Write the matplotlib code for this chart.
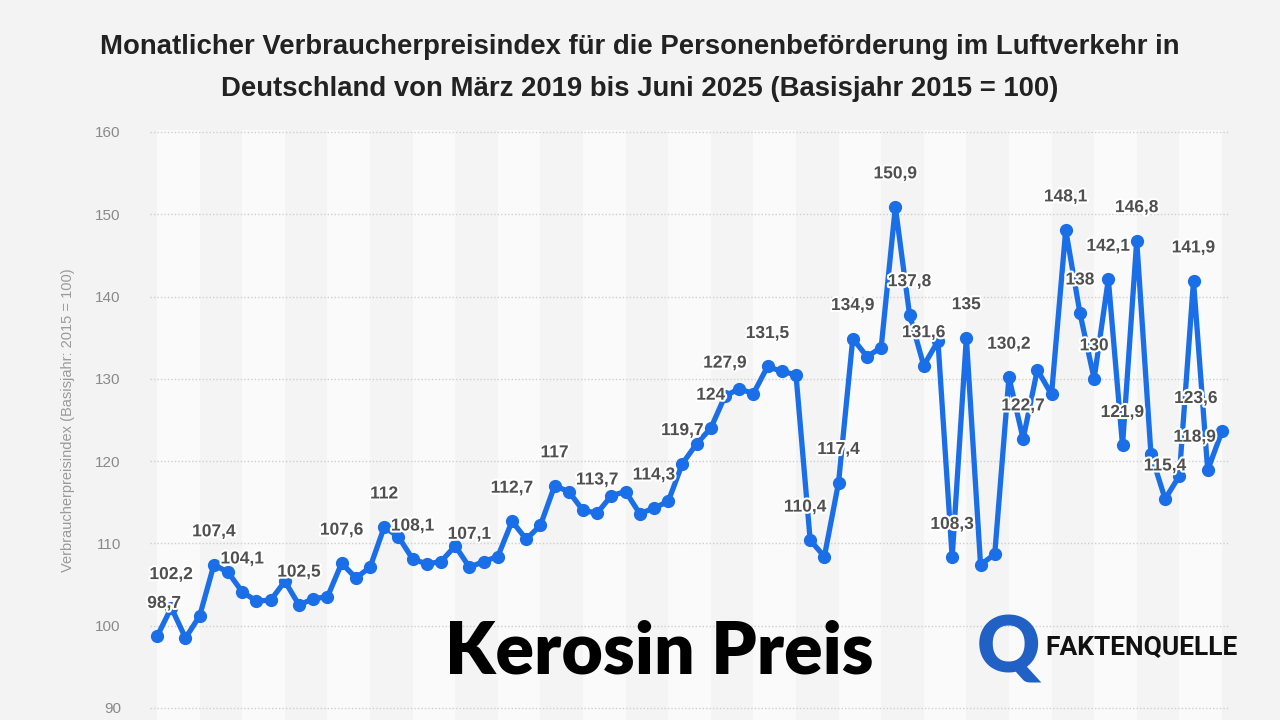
import matplotlib
matplotlib.use('Agg')
import matplotlib.pyplot as plt
import matplotlib.patheffects as pe
import pandas as pd

# Monatswerte Maerz 2019 bis Juni 2025 (Basisjahr 2015 = 100)
months = pd.date_range('2019-03-01', periods=76, freq='MS').strftime('%m/%Y').tolist()
values = [98.7, 102.2, 98.5, 101.2, 107.4, 106.5, 104.1, 103.0, 103.1, 105.4,
          102.5, 103.3, 103.5, 107.6, 105.8, 107.1, 112.0, 110.8, 108.1, 107.5,
          107.8, 109.7, 107.1, 107.8, 108.4, 112.7, 110.5, 112.2, 117.0, 116.3,
          114.0, 113.7, 115.8, 116.3, 113.6, 114.3, 115.1, 119.7, 122.1, 124.0,
          127.9, 128.8, 128.2, 131.5, 130.9, 130.5, 110.4, 108.4, 117.4, 134.9,
          132.7, 133.8, 150.9, 137.8, 131.6, 134.6, 108.3, 135.0, 107.4, 108.7,
          130.2, 122.7, 131.1, 128.1, 148.1, 138.0, 130.0, 142.1, 121.9, 146.8,
          120.9, 115.4, 118.2, 141.9, 118.9, 123.6]

# which points get a value label
labeled = [0, 1, 4, 6, 10, 13, 16, 18, 22, 25, 28, 31, 35, 37, 39, 40, 43, 46,
           48, 49, 52, 53, 54, 56, 57, 60, 61, 64, 65, 66, 67, 68, 69, 71, 73, 74, 75]

yticks = [90, 100, 110, 120, 130, 140, 150, 160]

title = ("Monatlicher Verbraucherpreisindex für die Personenbeförderung im Luftverkehr in\n"
         "Deutschland von März 2019 bis Juni 2025 (Basisjahr 2015 = 100)")
ylabel = "Verbraucherpreisindex (Basisjahr: 2015 = 100)"

# horizontal nudges (pixels) for labels near the edges
label_shift = {0: 7, 46: -5, 74: -13, 75: -26}


def draw_chart():
    fig = plt.figure(figsize=(12.8, 7.2), dpi=100)
    fig.patch.set_facecolor('#f3f3f3')

    ax = fig.add_axes([150 / 1280, 0, 1079 / 1280, 590.5 / 720])
    ax.set_facecolor('#f3f3f3')
    x = list(range(len(values)))

    # alternating column bands, three months each
    for k in range(len(values) // 3):
        ax.axvspan(3 * k, 3 * k + 3, color='#fafafa' if k % 2 == 0 else '#f4f4f4',
                   lw=0, zorder=0)

    ax.plot(x, values, color='#1a6ee8', lw=3.8, marker='o', ms=8.5,
            solid_joinstyle='round', zorder=3)

    halo = [pe.withStroke(linewidth=3, foreground='white')]
    for i in labeled:
        txt = ('%g' % values[i]).replace('.', ',')
        ax.annotate(txt, (x[i], values[i]), xytext=(label_shift.get(i, 0), 33),
                    textcoords='offset pixels', ha='center', va='center',
                    fontsize=12.5, fontweight='bold', color='#505050',
                    family='Liberation Sans', path_effects=halo, zorder=4)

    ax.set_xlim(-0.5, len(values) - 0.5)
    ax.set_ylim(88.54, 160.3)
    ax.set_xticks([])
    ax.set_yticks(yticks)
    ax.set_yticklabels([str(t) for t in yticks], family='Liberation Sans')
    ax.tick_params(axis='y', length=0, pad=21, labelsize=11, labelcolor='#8a8a8a')
    ax.yaxis.grid(True, linestyle=(0, (1, 1.5)), color='#cfcfcf', lw=1)
    ax.set_axisbelow(True)
    for s in ax.spines.values():
        s.set_visible(False)

    fig.text(68 / 1280, 1 - 420 / 720, ylabel, rotation=90, ha='center', va='center',
             fontsize=10.5, color='#9a9a9a', family='Liberation Sans')

    fig.text(0.5, 1 - 68 / 720, title, ha='center', va='center', fontsize=19.8,
             fontweight='bold', color='#222222', linespacing=1.75,
             family=['Liberation Sans', 'DejaVu Sans'])

    # overlay caption and logo
    fig.text(445 / 1280, 1 - 652 / 720, "Kerosin Preis", ha='left', va='center',
             fontsize=51.5, fontweight='heavy', color='black', family=['Lato', 'DejaVu Sans'])
    fig.text(1008 / 1280, 1 - 650 / 720, "Q", ha='center', va='center', fontsize=56,
             fontweight='heavy', color='#2160c4', family=['Lato', 'DejaVu Sans'])
    fig.text(1045 / 1280, 1 - 648 / 720, "FAKTENQUELLE", ha='left', va='center',
             fontsize=19, fontweight='bold', color='#111111',
             family=['Roboto', 'Liberation Sans', 'DejaVu Sans'])

    fig.savefig('out.png', dpi=100, facecolor=fig.get_facecolor())


if __name__ == '__main__':
    draw_chart()
